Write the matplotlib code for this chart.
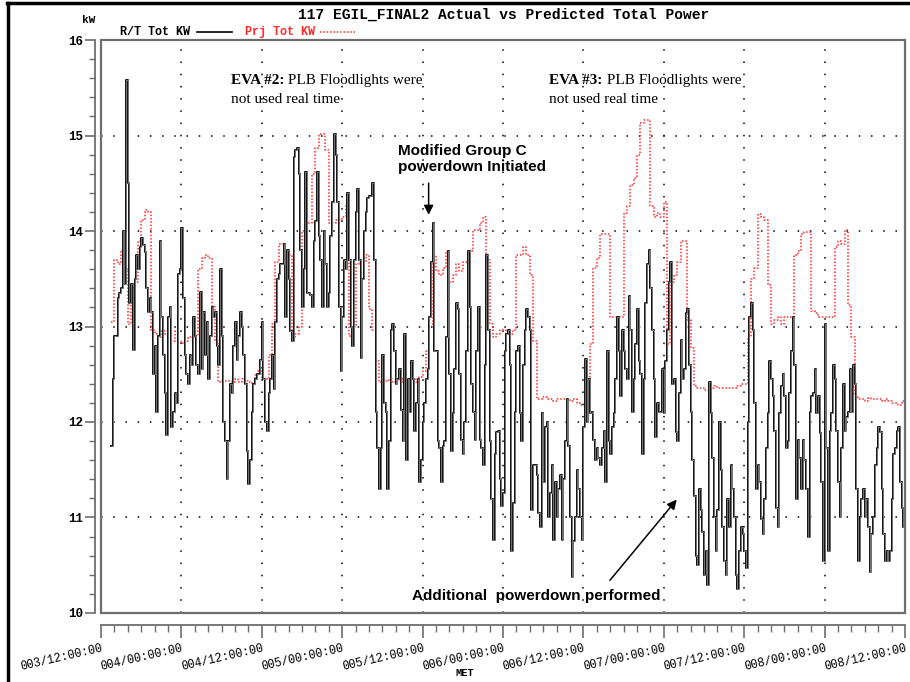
import numpy as np
import matplotlib.pyplot as plt
from matplotlib.lines import Line2D
from matplotlib.patches import Rectangle
from matplotlib.ticker import MultipleLocator, FuncFormatter

#----- Data: MET in hours, power in kW -----
# R/T Tot KW, sampled every 0.25 h, three stretches
rt_start = [85.5, 124.0, 164.5]
rt_step = 0.25
rt_kw_a = [11.75, 12.45, 12.9, 12.9, 13.3, 13.35, 13.4, 14.0, 13.45, 15.58,
           14.5, 13.25, 13.45, 12.75, 13.5, 13.75, 13.6, 13.83, 13.93, 13.85,
           13.78, 13.4, 13.15, 13.3, 13.15, 12.5, 12.8, 12.1, 12.9, 13.9,
           13.1, 12.7, 12.3, 11.86, 13.1, 13.2, 11.95, 12.1, 12.3, 12.2,
           13.55, 13.6, 14.03, 13.3, 12.7, 12.5, 12.4, 12.7, 12.6, 13.1,
           12.9, 12.6, 12.5, 13.36, 12.55, 13.15, 12.7, 13.05, 12.45, 12.9,
           13.2, 13.1, 13.15, 12.8, 12.6, 13.6, 12.9, 12.0, 11.8, 11.4,
           11.8, 12.4, 12.3, 12.8, 13.05, 12.65, 12.9, 13.15, 13.0, 12.7,
           12.4, 11.7, 11.35, 11.6, 12.1, 12.4, 12.45, 12.5, 12.5, 12.65,
           13.05, 12.45, 12.0, 11.91, 12.3, 12.45, 12.7, 12.35, 13.05, 13.5,
           13.55, 13.65, 13.65, 13.86, 13.1, 13.8, 13.5, 12.95, 12.85, 14.77,
           14.85, 14.87, 14.6, 13.8, 13.2, 13.6, 14.62, 13.35, 13.35, 13.33,
           13.2, 13.9, 14.1, 14.62, 13.95, 13.7, 13.2, 14.0, 13.65, 13.2,
           13.35, 13.95, 14.3, 15.02, 14.8, 14.3, 13.2, 12.53, 13.1, 13.7,
           13.6, 14.4, 13.7, 13.0, 12.8, 13.7, 14.2, 14.44, 13.7, 12.67,
           13.5, 14.0, 14.2, 14.35]
rt_kw_b = [14.37, 14.37, 14.5, 13.7, 12.1, 11.73, 11.3, 11.73, 12.7, 12.2,
           12.1, 11.3, 11.8, 12.96, 13.03, 12.74, 12.4, 12.45, 12.55, 12.13,
           11.8, 12.92, 11.6, 12.45, 12.1, 12.64, 12.45, 11.91, 12.2, 12.45,
           11.37, 11.6, 12.0, 12.2, 12.45, 12.56, 13.1, 13.68, 14.08, 12.74,
           12.74, 11.8, 11.73, 11.37, 11.75, 11.8, 12.89, 13.79, 12.5, 11.7,
           12.09, 12.56, 13.25, 13.18, 12.5, 11.81, 11.66, 12.0, 12.74, 13.79,
           13.2, 12.4, 12.1, 11.81, 12.74, 13.2, 11.81, 11.73, 11.55, 12.6,
           13.75, 12.96, 11.8, 11.19, 10.76, 11.66, 11.9, 11.91, 11.4, 11.12,
           11.26, 12.74, 12.92, 12.96, 12.6, 10.65, 11.15, 12.1, 12.74, 12.8,
           12.09, 11.8, 12.6, 12.96, 13.18, 13.1, 12.96, 11.08, 11.55, 11.55,
           11.45, 11.05, 10.9, 12.09, 11.37, 11.95, 12.0, 11.01, 11.26, 11.55,
           10.76, 11.37, 11.01, 11.3, 11.44, 10.76, 11.4, 11.8, 12.24, 11.75,
           11.01, 10.38, 10.75, 11.01, 11.5, 11.3, 11.01, 10.76, 11.95, 12.66,
           12.0, 12.45, 12.09, 12.1, 11.81, 11.6, 11.73, 11.62, 11.55, 11.73,
           11.91, 11.37, 12.74, 11.8, 11.66, 11.95, 12.09, 12.45, 13.1, 12.74,
           12.27, 12.96, 12.74, 12.56, 12.45, 13.32, 12.96, 12.1, 12.45, 12.82,
           13.18, 12.64]
rt_kw_c = [12.5, 11.66, 12.45, 13.25, 13.65, 13.8, 13.4, 12.96, 12.45, 11.84,
           12.2, 12.1, 12.1, 12.56, 12.09, 12.64, 12.96, 13.47, 13.68, 12.4,
           12.45, 11.9, 11.8, 12.3, 12.86, 12.45, 12.56, 13.14, 13.18, 12.6,
           12.1, 11.6, 11.22, 10.6, 10.5, 11.3, 11.08, 10.85, 10.4, 10.65,
           10.29, 12.42, 12.09, 11.62, 11.01, 10.65, 11.08, 12.0, 11.5, 10.9,
           10.54, 10.4, 11.19, 10.9, 11.55, 11.3, 11.01, 10.4, 10.25, 10.65,
           10.9, 10.83, 10.65, 10.47, 12.0, 13.1, 13.25, 12.96, 12.2, 11.3,
           11.55, 11.37, 10.98, 10.83, 11.19, 11.73, 12.09, 12.64, 12.45, 12.27,
           11.91, 11.1, 10.9, 12.09, 12.38, 12.5, 12.27, 11.73, 11.8, 12.3,
           12.74, 13.1, 12.6, 11.19, 11.81, 11.62, 11.3, 11.81, 11.6, 11.3,
           10.8, 12.1, 12.27, 12.3, 12.56, 12.09, 12.27, 11.88, 11.37, 10.54,
           13.03, 11.73, 10.65, 11.91, 12.09, 12.6, 12.45, 11.91, 11.37, 11.01,
           11.73, 12.4, 11.91, 12.05, 12.1, 12.56, 12.1, 12.6, 12.4, 11.3,
           10.54, 11.01, 11.19, 11.3, 11.01, 11.19, 10.9, 10.43, 10.83, 11.01,
           11.55, 11.73, 11.95, 11.9, 11.3, 10.83, 10.54, 10.65, 10.54, 10.65,
           11.19, 11.66, 11.73, 11.91, 11.95, 11.37, 11.1, 10.9, 11.3, 11.3]

# Prj Tot KW, sampled every 0.5 h
prj_start = [85.5, 124.0, 164.5]
prj_step = 0.5
prj_kw_a = [13.05, 13.7, 13.65, 13.8, 13.6, 13.03, 13.4, 13.47, 13.9, 14.12,
            14.22, 14.2, 12.96, 12.92, 12.89, 12.95, 12.92, 12.85, 12.85, 12.95,
            12.85, 12.83, 12.85, 12.89, 12.89, 12.9, 13.6, 13.72, 13.75, 13.72,
            13.2, 12.85, 12.42, 12.43, 12.43, 12.43, 12.42, 12.45, 12.42, 12.45,
            12.43, 12.42, 12.4, 12.49, 12.53, 12.45, 12.45, 12.7, 13.03, 13.68,
            13.86, 13.86, 13.72, 13.75, 12.89, 12.92, 13.0, 14.0, 14.08, 14.08,
            14.6, 14.87, 15.02, 15.02, 14.85, 14.08, 14.08, 14.12, 14.12, 14.15,
            14.26, 12.9, 13.0, 13.65, 13.68, 13.68, 13.75]
prj_kw_b = [13.18, 12.96, 12.64, 12.42, 12.42, 12.43, 12.45, 12.42, 12.43, 12.45,
            12.42, 12.43, 12.45, 12.45, 12.42, 12.47, 12.53, 12.74, 13.03, 13.75,
            13.58, 13.54, 13.61, 13.79, 13.47, 13.54, 13.65, 13.58, 13.68, 13.68,
            13.79, 14.01, 14.01, 14.08, 14.15, 13.7, 13.03, 12.89, 12.92, 12.96,
            12.96, 12.92, 12.92, 12.96, 13.75, 13.75, 13.83, 13.75, 13.54, 12.85,
            12.24, 12.24, 12.26, 12.24, 12.24, 12.22, 12.24, 12.24, 12.24, 12.24,
            12.22, 12.24, 12.2, 12.18, 12.18, 12.45, 12.82, 13.61, 13.72, 13.97,
            13.97, 13.97, 13.1, 13.1, 13.1, 13.1, 14.19, 14.26, 14.48, 14.55,
            14.8]
prj_kw_c = [15.13, 15.16, 15.16, 14.26, 14.15, 14.19, 14.15, 14.3, 12.82, 13.47,
            13.54, 13.68, 13.9, 13.9, 13.07, 12.78, 12.38, 12.36, 12.36, 12.33,
            12.33, 12.36, 12.38, 12.36, 12.36, 12.36, 12.36, 12.36, 12.36, 12.38,
            12.4, 12.4, 12.89, 13.5, 13.61, 14.18, 14.15, 14.12, 13.43, 13.03,
            13.07, 13.1, 13.03, 13.1, 13.1, 13.1, 13.75, 13.79, 13.97, 13.99,
            13.99, 13.16, 13.14, 13.1, 13.1, 13.1, 13.1, 13.1, 13.83, 13.9,
            13.86, 14.01, 13.22, 12.89, 12.27, 12.24, 12.24, 12.22, 12.25, 12.24,
            12.24, 12.24, 12.22, 12.24, 12.22, 12.2, 12.2, 12.18, 12.22, 12.22]

def build(starts, step, parts):
	t = np.concatenate([s + step*np.arange(len(p)) for s, p in zip(starts, parts)])
	return t, np.concatenate([np.array(p) for p in parts])

rt_t, rt_kw = build(rt_start, rt_step, [rt_kw_a, rt_kw_b, rt_kw_c])
prj_t, prj_kw = build(prj_start, prj_step, [prj_kw_a, prj_kw_b, prj_kw_c])

#----- Plot -----
mono = "Liberation Mono"
frame_col = "#6e6e6e"
red = "#ff2a2a"
fig = plt.figure(figsize=(9.1, 6.82), dpi=100)
ax = fig.add_axes([0.111, 0.1012, 0.8835, 0.8401])

ax.step(prj_t, prj_kw, where="post", color=red, lw=1.1, ls=(0, (1, 1.2)), zorder=2)
ax.step(rt_t, rt_kw, where="post", color="#111111", lw=1.4, zorder=3)
ax.step(rt_t, rt_kw, where="post", color="#a8a8a8", lw=0.45, zorder=4)

ax.set_xlim(84, 204)
ax.set_ylim(10, 16)
ax.xaxis.set_major_locator(MultipleLocator(12))
ax.xaxis.set_minor_locator(MultipleLocator(2))
ax.yaxis.set_major_locator(MultipleLocator(1))
ax.yaxis.set_minor_locator(MultipleLocator(0.2))
ax.xaxis.set_major_formatter(FuncFormatter(lambda h, pos: f"{int(h//24):03d}/{int(h % 24):02d}:00:00"))
ax.yaxis.set_major_formatter(FuncFormatter(lambda v, pos: f"{v:.0f}"))
ax.grid(True, which="major", color="black", ls=(0, (1, 7)), lw=1.1)

# frame plus detached axis lines
for s in ["top", "right"]:
	ax.spines[s].set_visible(False)
ax.add_patch(Rectangle((0, 0), 1, 1, transform=ax.transAxes, fill=False, ec=frame_col, lw=1.6, clip_on=False, zorder=5))
ax.spines["left"].set_position(("outward", 4))
ax.spines["bottom"].set_position(("outward", 9))
for s in ["left", "bottom"]:
	ax.spines[s].set_color(frame_col)
	ax.spines[s].set_linewidth(1.3)
ax.tick_params(axis="y", which="major", direction="out", length=7, width=1.2, color=frame_col, pad=2)
ax.tick_params(axis="y", which="minor", direction="out", length=4, width=1.0, color=frame_col)
ax.tick_params(axis="x", which="major", direction="out", length=9, width=1.2, color=frame_col, pad=3)
ax.tick_params(axis="x", which="minor", direction="out", length=5, width=1.0, color=frame_col)
for lab in ax.get_yticklabels():
	lab.set_fontfamily(mono)
	lab.set_fontweight("bold")
	lab.set_fontsize(9)
for lab in ax.get_xticklabels():
	lab.set_fontfamily(mono)
	lab.set_fontsize(8.5)
	lab.set_rotation(13)
	lab.set_ha("right")
	lab.set_va("top")
	lab.set_rotation_mode("anchor")

# title, legend, axis labels
fig.text(0.553, 0.979, "117 EGIL_FINAL2 Actual vs Predicted Total Power", family=mono, weight="bold", size=10.5, ha="center", va="center")
fig.text(0.132, 0.953, "R/T Tot KW", family=mono, weight="bold", size=8.5, ha="left", va="center")
fig.add_artist(Line2D([0.2165, 0.255], [0.953, 0.953], transform=fig.transFigure, color="black", lw=1.2))
fig.text(0.269, 0.953, "Prj Tot KW", family=mono, weight="bold", size=8.5, color=red, ha="left", va="center")
fig.add_artist(Line2D([0.352, 0.390], [0.953, 0.953], transform=fig.transFigure, color=red, lw=1.1, ls=(0, (1, 1.2))))
fig.text(0.090, 0.970, "kW", family=mono, weight="bold", size=8, ha="left", va="center")
fig.text(0.511, 0.013, "MET", family=mono, weight="bold", size=7.5, ha="center", va="center")

# annotations
renderer = fig.canvas.get_renderer()
for x0, num in [(103.4, "#2"), (150.9, "#3")]:
	t1 = ax.text(x0, 15.58, f"EVA {num}:", family="Liberation Serif", weight="bold", size=11, ha="left", va="center")
	bb = t1.get_window_extent(renderer).transformed(ax.transData.inverted())
	ax.text(bb.x1, 15.58, " PLB Floodlights were", family="Liberation Serif", size=11, ha="left", va="center")
	ax.text(x0, 15.38, "not used real time", family="Liberation Serif", size=11, ha="left", va="center")

ax.text(128.3, 14.75, "Modified Group C\npowerdown Initiated", family="Liberation Sans", weight="bold", size=11, ha="left", va="center", linespacing=1.2)
ax.annotate("", xy=(132.9, 14.14), xytext=(132.9, 14.53), arrowprops=dict(arrowstyle="-|>", color="black", lw=1.1, mutation_scale=14))
ax.text(130.4, 10.18, "Additional  powerdown performed", family="Liberation Sans", weight="bold", size=11, ha="left", va="center")
ax.annotate("", xy=(170.2, 11.21), xytext=(159.7, 10.32), arrowprops=dict(arrowstyle="-|>", color="black", lw=1.1, mutation_scale=14))

# outer border of the page
fig.add_artist(Line2D([0.008, 1.0], [0.995, 0.995], transform=fig.transFigure, color="black", lw=2.5))
fig.add_artist(Line2D([0.009, 0.009], [0.0, 0.995], transform=fig.transFigure, color="black", lw=2.5))

fig.savefig("out.png", dpi=100)
